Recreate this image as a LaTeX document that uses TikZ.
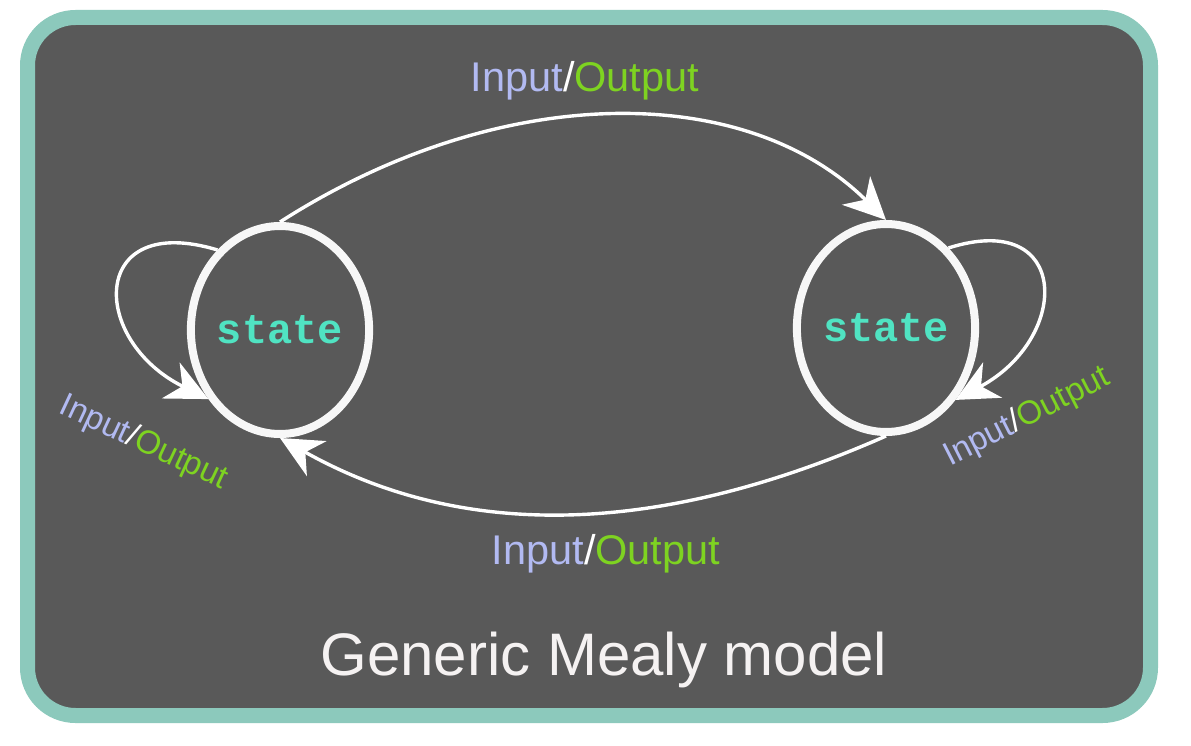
\documentclass[tikz,border=0pt]{standalone}
\usepackage{fontspec}
\setmainfont{Liberation Sans}
\newfontfamily\monofont{Liberation Mono}
\usetikzlibrary{shapes.geometric,arrows.meta}
\definecolor{bgdark}{RGB}{89,89,89}
\definecolor{framec}{RGB}{140,201,188}
\definecolor{inputc}{RGB}{178,186,242}
\definecolor{outputc}{RGB}{126,211,33}
\definecolor{statec}{RGB}{80,227,194}
\definecolor{titlec}{RGB}{245,242,242}
\newcommand{\iolabel}{\textcolor{inputc}{Input}\textcolor{white}{/}\textcolor{outputc}{Output}}
\begin{document}
\begin{tikzpicture}[x=1pt,y=-1pt,
  statenode/.style={ellipse, draw=white!97!black, line width=8pt, minimum width=173pt, minimum height=208pt, inner sep=0pt, font=\monofont\bfseries\fontsize{42}{42}\selectfont, text=statec},
  trans/.style={draw=white, line width=3.4pt, -{Stealth[length=42pt,width=40pt,inset=13pt]}},
  lbl/.style={font=\fontsize{41.5}{41.5}\selectfont, anchor=base, inner sep=0pt},
  slbl/.style={font=\fontsize{33}{33}\selectfont, anchor=base, inner sep=0pt}]
\useasboundingbox[fill=white] (0,0) rectangle (1191,746);
\draw[fill=bgdark, draw=framec, line width=15pt, rounded corners=48pt] (27.5,17.5) rectangle (1150.5,715.5);
\node[statenode] (s1) at (280,330) {state};
\node[statenode] (s2) at (886,328) {state};
\draw[trans] (s1.north) .. controls (500,81) and (745,81) .. (s2.north);
\draw[trans] (s2.south) .. controls (664,534) and (467,543) .. (s1.south);
\draw[trans] (s1.128) .. controls (89,211) and (89,340) .. (s1.224);
\draw[trans] (s2.52) .. controls (1071,209) and (1071,338) .. (s2.314);
\node[lbl] (t1) at (585,92) {\iolabel};
\node[lbl] (t2) at (606,564) {\iolabel};
\node[slbl, rotate=-25] (t3) at (140,451) {\iolabel};
\node[slbl, rotate=27] (t4) at (1031,425) {\iolabel};
\node[font=\fontsize{60}{60}\selectfont, text=titlec, anchor=base, inner sep=0pt] (title) at (604,675) {Generic Mealy model};
\end{tikzpicture}
\end{document}
